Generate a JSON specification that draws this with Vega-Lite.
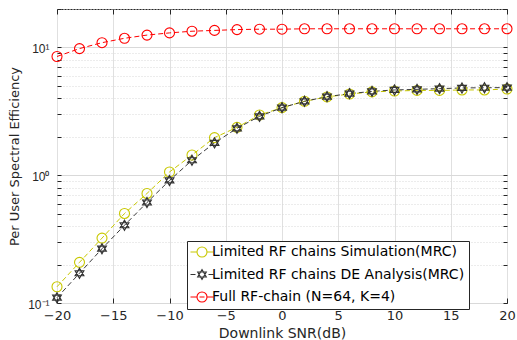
{
  "$schema": "https://vega.github.io/schema/vega-lite/v6.json",
  "width": 450,
  "height": 294,
  "autosize": {"type": "none"},
  "padding": {"left": 57, "top": 9, "right": 10, "bottom": 37},
  "background": "white",
  "config": {
    "font": "DejaVu Sans",
    "view": {"stroke": "#262626", "strokeWidth": 1},
    "axis": {
      "domainColor": "#262626",
      "tickColor": "#262626",
      "labelColor": "#262626",
      "titleColor": "#262626",
      "labelFont": "DejaVu Sans",
      "titleFont": "DejaVu Sans",
      "labelFontSize": 13,
      "titleFontSize": 14,
      "titleFontWeight": "normal",
      "labelFlush": false
    }
  },
  "data": {
    "values": [
      {"snr": -20, "se": 0.134, "series": "Limited RF chains Simulation(MRC)"},
      {"snr": -18, "se": 0.208, "series": "Limited RF chains Simulation(MRC)"},
      {"snr": -16, "se": 0.322, "series": "Limited RF chains Simulation(MRC)"},
      {"snr": -14, "se": 0.502, "series": "Limited RF chains Simulation(MRC)"},
      {"snr": -12, "se": 0.72, "series": "Limited RF chains Simulation(MRC)"},
      {"snr": -10, "se": 1.06, "series": "Limited RF chains Simulation(MRC)"},
      {"snr": -8, "se": 1.44, "series": "Limited RF chains Simulation(MRC)"},
      {"snr": -6, "se": 1.97, "series": "Limited RF chains Simulation(MRC)"},
      {"snr": -4, "se": 2.37, "series": "Limited RF chains Simulation(MRC)"},
      {"snr": -2, "se": 2.96, "series": "Limited RF chains Simulation(MRC)"},
      {"snr": 0, "se": 3.38, "series": "Limited RF chains Simulation(MRC)"},
      {"snr": 2, "se": 3.79, "series": "Limited RF chains Simulation(MRC)"},
      {"snr": 4, "se": 4.1, "series": "Limited RF chains Simulation(MRC)"},
      {"snr": 6, "se": 4.32, "series": "Limited RF chains Simulation(MRC)"},
      {"snr": 8, "se": 4.49, "series": "Limited RF chains Simulation(MRC)"},
      {"snr": 10, "se": 4.56, "series": "Limited RF chains Simulation(MRC)"},
      {"snr": 12, "se": 4.61, "series": "Limited RF chains Simulation(MRC)"},
      {"snr": 14, "se": 4.61, "series": "Limited RF chains Simulation(MRC)"},
      {"snr": 16, "se": 4.65, "series": "Limited RF chains Simulation(MRC)"},
      {"snr": 18, "se": 4.65, "series": "Limited RF chains Simulation(MRC)"},
      {"snr": 20, "se": 4.73, "series": "Limited RF chains Simulation(MRC)"},
      {"snr": -20, "se": 0.11, "series": "Limited RF chains DE Analysis(MRC)"},
      {"snr": -18, "se": 0.171, "series": "Limited RF chains DE Analysis(MRC)"},
      {"snr": -16, "se": 0.266, "series": "Limited RF chains DE Analysis(MRC)"},
      {"snr": -14, "se": 0.406, "series": "Limited RF chains DE Analysis(MRC)"},
      {"snr": -12, "se": 0.612, "series": "Limited RF chains DE Analysis(MRC)"},
      {"snr": -10, "se": 0.91, "series": "Limited RF chains DE Analysis(MRC)"},
      {"snr": -8, "se": 1.31, "series": "Limited RF chains DE Analysis(MRC)"},
      {"snr": -6, "se": 1.79, "series": "Limited RF chains DE Analysis(MRC)"},
      {"snr": -4, "se": 2.33, "series": "Limited RF chains DE Analysis(MRC)"},
      {"snr": -2, "se": 2.89, "series": "Limited RF chains DE Analysis(MRC)"},
      {"snr": 0, "se": 3.38, "series": "Limited RF chains DE Analysis(MRC)"},
      {"snr": 2, "se": 3.79, "series": "Limited RF chains DE Analysis(MRC)"},
      {"snr": 4, "se": 4.12, "series": "Limited RF chains DE Analysis(MRC)"},
      {"snr": 6, "se": 4.35, "series": "Limited RF chains DE Analysis(MRC)"},
      {"snr": 8, "se": 4.53, "series": "Limited RF chains DE Analysis(MRC)"},
      {"snr": 10, "se": 4.65, "series": "Limited RF chains DE Analysis(MRC)"},
      {"snr": 12, "se": 4.7, "series": "Limited RF chains DE Analysis(MRC)"},
      {"snr": 14, "se": 4.76, "series": "Limited RF chains DE Analysis(MRC)"},
      {"snr": 16, "se": 4.82, "series": "Limited RF chains DE Analysis(MRC)"},
      {"snr": 18, "se": 4.84, "series": "Limited RF chains DE Analysis(MRC)"},
      {"snr": 20, "se": 4.85, "series": "Limited RF chains DE Analysis(MRC)"},
      {"snr": -20, "se": 8.5, "series": "Full RF-chain (N=64, K=4)"},
      {"snr": -18, "se": 9.8, "series": "Full RF-chain (N=64, K=4)"},
      {"snr": -16, "se": 10.9, "series": "Full RF-chain (N=64, K=4)"},
      {"snr": -14, "se": 11.8, "series": "Full RF-chain (N=64, K=4)"},
      {"snr": -12, "se": 12.5, "series": "Full RF-chain (N=64, K=4)"},
      {"snr": -10, "se": 13.0, "series": "Full RF-chain (N=64, K=4)"},
      {"snr": -8, "se": 13.4, "series": "Full RF-chain (N=64, K=4)"},
      {"snr": -6, "se": 13.6, "series": "Full RF-chain (N=64, K=4)"},
      {"snr": -4, "se": 13.8, "series": "Full RF-chain (N=64, K=4)"},
      {"snr": -2, "se": 13.9, "series": "Full RF-chain (N=64, K=4)"},
      {"snr": 0, "se": 13.9, "series": "Full RF-chain (N=64, K=4)"},
      {"snr": 2, "se": 14.0, "series": "Full RF-chain (N=64, K=4)"},
      {"snr": 4, "se": 14.0, "series": "Full RF-chain (N=64, K=4)"},
      {"snr": 6, "se": 14.0, "series": "Full RF-chain (N=64, K=4)"},
      {"snr": 8, "se": 14.0, "series": "Full RF-chain (N=64, K=4)"},
      {"snr": 10, "se": 14.0, "series": "Full RF-chain (N=64, K=4)"},
      {"snr": 12, "se": 14.0, "series": "Full RF-chain (N=64, K=4)"},
      {"snr": 14, "se": 14.0, "series": "Full RF-chain (N=64, K=4)"},
      {"snr": 16, "se": 14.0, "series": "Full RF-chain (N=64, K=4)"},
      {"snr": 18, "se": 14.0, "series": "Full RF-chain (N=64, K=4)"},
      {"snr": 20, "se": 14.0, "series": "Full RF-chain (N=64, K=4)"}
    ]
  },
  "layer": [
    {
      "transform": [{"filter": "datum.series == 'Limited RF chains Simulation(MRC)'"}],
      "mark": {"type": "line", "strokeDash": [5, 3], "strokeWidth": 1, "color": "#c8c800"},
      "encoding": {
        "x": {
          "field": "snr", "type": "quantitative",
          "scale": {"domain": [-20, 20], "nice": false},
          "axis": {
            "title": "Downlink SNR(dB)",
            "values": [-20, -15, -10, -5, 0, 5, 10, 15, 20],
            "grid": true, "gridColor": "#e0e0e0", "gridWidth": 1,
            "tickSize": -5, "labelPadding": 11, "titlePadding": 4,
            "domain": false
          }
        },
        "y": {
          "field": "se", "type": "quantitative",
          "scale": {"type": "log", "domain": [0.1, 20], "nice": false},
          "axis": {
            "title": "Per User Spectral Efficiency",
            "titleFontSize": 13,
            "labelFont": "Liberation Sans",
            "labelFontSize": 12,
            "labelOffset": 1.5,
            "values": [0.1, 0.2, 0.3, 0.4, 0.5, 0.6, 0.7, 0.8, 0.9, 1, 2, 3, 4, 5, 6, 7, 8, 9, 10, 20],
            "labelExpr": "datum.value == 0.1 ? '10⁻¹' : datum.value == 1 ? '10⁰' : datum.value == 10 ? '10¹' : ''",
            "grid": true,
            "gridColor": "#d9d9d9",
            "gridDash": {"condition": {"test": "datum.value == 0.1 || datum.value == 1 || datum.value == 10", "value": []}, "value": [1, 2]},
            "tickSize": -4, "labelPadding": 12, "titlePadding": 6,
            "domain": false
          }
        }
      }
    },
    {
      "transform": [{"filter": "datum.series == 'Limited RF chains DE Analysis(MRC)'"}],
      "mark": {"type": "line", "strokeDash": [5, 3], "strokeWidth": 1, "color": "#3a3a3a"},
      "encoding": {
        "x": {"field": "snr", "type": "quantitative", "axis": null},
        "y": {"field": "se", "type": "quantitative", "axis": null}
      }
    },
    {
      "transform": [{"filter": "datum.series == 'Full RF-chain (N=64, K=4)'"}],
      "mark": {"type": "line", "strokeDash": [5, 3], "strokeWidth": 1, "color": "#ff0000"},
      "encoding": {
        "x": {"field": "snr", "type": "quantitative", "axis": null},
        "y": {"field": "se", "type": "quantitative", "axis": null}
      }
    },
    {
      "transform": [{"filter": "datum.series == 'Limited RF chains Simulation(MRC)'"}],
      "mark": {"type": "point", "filled": false, "strokeWidth": 1.1, "size": 100, "opacity": 1, "shape": "circle", "color": "#c8c800"},
      "encoding": {
        "x": {"field": "snr", "type": "quantitative", "axis": null},
        "y": {"field": "se", "type": "quantitative", "axis": null}
      }
    },
    {
      "transform": [{"filter": "datum.series == 'Limited RF chains DE Analysis(MRC)'"}],
      "mark": {"type": "point", "filled": false, "strokeWidth": 1.2, "size": 100, "opacity": 1, "shape": "M0,-1L0.866,0.5L-0.866,0.5ZM0,1L0.866,-0.5L-0.866,-0.5Z", "color": "#333333"},
      "encoding": {
        "x": {"field": "snr", "type": "quantitative", "axis": null},
        "y": {"field": "se", "type": "quantitative", "axis": null}
      }
    },
    {
      "transform": [{"filter": "datum.series == 'Full RF-chain (N=64, K=4)'"}],
      "mark": {"type": "point", "filled": false, "strokeWidth": 1.1, "size": 100, "opacity": 1, "shape": "circle", "color": "#ff0000"},
      "encoding": {
        "x": {"field": "snr", "type": "quantitative", "axis": null},
        "y": {"field": "se", "type": "quantitative", "axis": null}
      }
    },
    {
      "transform": [{"filter": "false"}],
      "mark": {"type": "point", "filled": false, "strokeWidth": 1.1, "size": 100, "opacity": 1},
      "encoding": {
        "x": {"field": "snr", "type": "quantitative", "axis": null},
        "y": {"field": "se", "type": "quantitative", "axis": null},
        "color": {
          "field": "series", "type": "nominal",
          "scale": {
            "domain": ["Limited RF chains Simulation(MRC)", "Limited RF chains DE Analysis(MRC)", "Full RF-chain (N=64, K=4)"],
            "range": ["#c8c800", "#333333", "#ff0000"]
          },
          "legend": {
            "title": null,
            "orient": "none",
            "legendX": 130,
            "legendY": 232,
            "fillColor": "white",
            "strokeColor": "#262626",
            "padding": 4,
            "labelFont": "DejaVu Sans",
            "labelFontSize": 14,
            "labelColor": "#000000",
            "labelLimit": 400,
            "symbolSize": 100,
            "symbolStrokeWidth": 1.1,
            "symbolOffset": 4,
            "labelOffset": 3,
            "rowPadding": 6.5
          }
        },
        "shape": {
          "field": "series", "type": "nominal",
          "scale": {
            "domain": ["Limited RF chains Simulation(MRC)", "Limited RF chains DE Analysis(MRC)", "Full RF-chain (N=64, K=4)"],
            "range": [
              "M-2.3,0L-1,0M1,0L2.3,0M-1,0A1,1 0 1,1 1,0A1,1 0 1,1 -1,0",
              "M-2.3,0L-1.3,0M1.3,0L2.3,0M0,-1L0.866,0.5L-0.866,0.5ZM0,1L0.866,-0.5L-0.866,-0.5Z",
              "M-2.3,0L-1,0M1,0L2.3,0M-0.5,0L0.5,0M-1,0A1,1 0 1,1 1,0A1,1 0 1,1 -1,0"
            ]
          }
        }
      }
    },
    {
      "mark": {"type": "point", "opacity": 0},
      "encoding": {
        "x": {
          "field": "snr", "type": "quantitative",
          "axis": {"orient": "top", "values": [-20, -15, -10, -5, 0, 5, 10, 15, 20], "labels": false, "title": null, "grid": false, "domain": false, "tickSize": -5}
        },
        "y": {
          "field": "se", "type": "quantitative",
          "axis": {"orient": "right", "values": [0.1, 0.2, 0.3, 0.4, 0.5, 0.6, 0.7, 0.8, 0.9, 1, 2, 3, 4, 5, 6, 7, 8, 9, 10, 20], "labels": false, "title": null, "grid": false, "domain": false, "tickSize": -4}
        }
      }
    }
  ],
  "resolve": {"axis": {"x": "independent", "y": "independent"}}
}
